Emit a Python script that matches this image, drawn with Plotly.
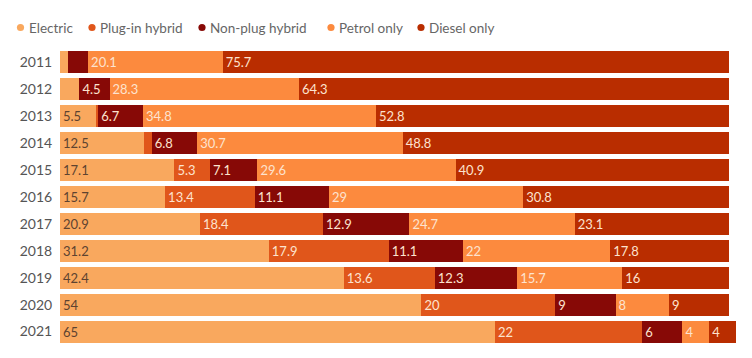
import plotly.graph_objects as go

years = ["2011", "2012", "2013", "2014", "2015", "2016", "2017", "2018", "2019", "2020", "2021"]
electric = [1.2, 2.9, 5.5, 12.5, 17.1, 15.7, 20.9, 31.2, 42.4, 54, 65]
plugin_hybrid = [0, 0, 0.2, 1.2, 5.3, 13.4, 18.4, 17.9, 13.6, 20, 22]
nonplug_hybrid = [3.0, 4.5, 6.7, 6.8, 7.1, 11.1, 12.9, 11.1, 12.3, 9, 6]
petrol = [20.1, 28.3, 34.8, 30.7, 29.6, 29, 24.7, 22, 15.7, 8, 4]
diesel = [75.7, 64.3, 52.8, 48.8, 40.9, 30.8, 23.1, 17.8, 16, 9, 4]

series = [
    ("Electric", electric, "#f9a85e", "#5e4330"),
    ("Plug-in hybrid", plugin_hybrid, "#e0561b", "#fde3cf"),
    ("Non-plug hybrid", nonplug_hybrid, "#870906", "#fde3cf"),
    ("Petrol only", petrol, "#fc8a3e", "#fde3cf"),
    ("Diesel only", diesel, "#b92d00", "#fde3cf"),
]

# layout constants (pixels, page coordinates; page body has an 8px margin)
OFF = 8
W, H = 752 - OFF, 358 - OFF
ML, MR, MT, MB = 60 - OFF, 16, 49 - OFF, 13
PW, PH = W - ML - MR, H - MT - MB
legend_marker_px = [20.5, 92, 202, 331, 421]
legend_y_px = 27.5

FONT = "Lato, 'Open Sans', sans-serif"


def px_to_paper_x(px):
    return (px - OFF - ML) / PW


def px_to_paper_y(py):
    return 1 - (py - OFF - MT) / PH


fig = go.Figure()
shapes = []
annotations = []
for i, (name, vals, color, tcolor) in enumerate(series):
    labels = [("%g" % v) if v >= 4 else "" for v in vals]
    fig.add_trace(go.Bar(
        y=years, x=vals, orientation="h", name=name,
        marker=dict(color=color, line=dict(width=0)),
        text=labels, textposition="inside", insidetextanchor="start",
        textangle=0, constraintext="none",
        insidetextfont=dict(color=tcolor, size=13, family=FONT),
        showlegend=False, hoverinfo="skip",
    ))
    mx = px_to_paper_x(legend_marker_px[i])
    my = px_to_paper_y(legend_y_px)
    shapes.append(dict(
        type="circle", xref="paper", yref="paper",
        xsizemode="pixel", ysizemode="pixel", xanchor=mx, yanchor=my,
        x0=-3.6, x1=3.6, y0=-3.6, y1=3.6,
        fillcolor=color, line=dict(width=0),
    ))
    annotations.append(dict(
        text=name, xref="paper", yref="paper",
        x=px_to_paper_x(legend_marker_px[i] + 6), y=my,
        xanchor="left", yanchor="middle", showarrow=False,
        font=dict(size=13.5, color="#666666", family=FONT),
    ))

fig.update_layout(
    barmode="stack",
    bargap=0.18,
    width=W, height=H,
    margin=dict(l=ML, r=MR, t=MT, b=MB),
    paper_bgcolor="white", plot_bgcolor="white",
    font=dict(family=FONT, size=13, color="#555555"),
    showlegend=False,
    shapes=shapes,
    annotations=annotations,
    xaxis=dict(range=[0, 101], visible=False, fixedrange=True, automargin=False),
    yaxis=dict(autorange="reversed", showgrid=False, zeroline=False, showline=False,
               ticks="outside", ticklen=4, tickcolor="rgba(0,0,0,0)",
               tickfont=dict(size=14, color="#555555"), fixedrange=True,
               automargin=False),
)

fig.write_html("out.html")
